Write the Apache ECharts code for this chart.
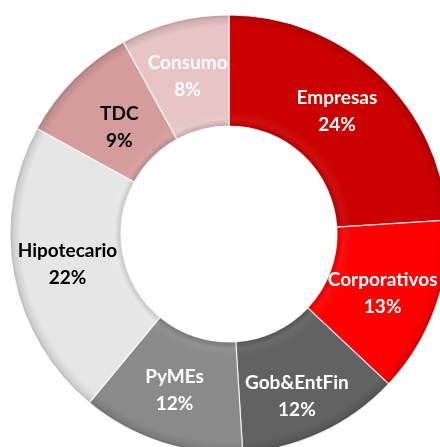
<!DOCTYPE html>
<html>
<head>
<meta charset="utf-8">
<script src="https://cdn.jsdelivr.net/npm/echarts@6/dist/echarts.min.js"></script>
<style>
  html, body { margin: 0; padding: 0; background: #fff; }
  #chart { width: 440px; height: 447px; }
</style>
</head>
<body>
<div id="chart"></div>
<script>
// segment names and shares (%), clockwise from 12 o'clock
var segments = ['Empresas', 'Corporativos', 'Gob&EntFin', 'PyMEs', 'Hipotecario', 'TDC', 'Consumo'];
var shares = [24, 13, 12, 12, 22, 9, 8];
var colours = ['#cc0000', '#fe0000', '#626262', '#8a8a8a', '#e6e6e6', '#d49c9c', '#e8c4c4'];
var labelColours = ['#fff', '#fff', '#fff', '#fff', '#000', '#000', '#fff'];
// small nudges so labels sit where the original put them
var labelNudge = [[-6, -1], [-3, 3], [-3, 12], [-3, -2], [2, -1], [8, 11], [0, 4]];

var cx = 229, cy = 234, rIn = 108, rOut = 219;

// darken / lighten a hex colour
function shade(hex, f) {
    var n = parseInt(hex.slice(1), 16);
    var r = n >> 16, g = (n >> 8) & 255, b = n & 255;
    function c(v) { return Math.max(0, Math.min(255, Math.round(f < 0 ? v * (1 + f) : v + (255 - v) * f))); }
    return 'rgb(' + c(r) + ',' + c(g) + ',' + c(b) + ')';
}

// bevel look: radial gradient round the chart centre
function bevel(col) {
    var k = rIn / rOut;
    return {
        type: 'radial', x: cx, y: cy, r: rOut, global: true,
        colorStops: [
            { offset: 0, color: shade(col, -0.2) },
            { offset: k, color: shade(col, -0.15) },
            { offset: k + 0.03, color: shade(col, 0.06) },
            { offset: k + 0.07, color: col },
            { offset: 0.95, color: col },
            { offset: 0.985, color: shade(col, -0.1) },
            { offset: 1, color: shade(col, -0.22) }
        ]
    };
}

var pieData = segments.map(function (name, i) {
    return {
        name: name,
        value: shares[i],
        itemStyle: { color: bevel(colours[i]) },
        label: { color: labelColours[i], offset: labelNudge[i] }
    };
});

var chart = echarts.init(document.getElementById('chart'));
chart.setOption({
    animation: false,
    series: [{
        type: 'pie',
        center: [cx, cy],
        radius: [rIn, rOut],
        startAngle: 90,
        clockwise: true,
        avoidLabelOverlap: false,
        itemStyle: { borderColor: 'rgba(255,255,255,0.8)', borderWidth: 1.2 },
        label: {
            show: true,
            position: 'inside',
            formatter: function (p) { return p.name + '\n' + p.value + '%'; },
            fontFamily: 'Lato',
            fontWeight: 'bold',
            fontSize: 19,
            lineHeight: 27
        },
        labelLine: { show: false },
        emphasis: { disabled: true },
        data: pieData
    }]
});
</script>
</body>
</html>
